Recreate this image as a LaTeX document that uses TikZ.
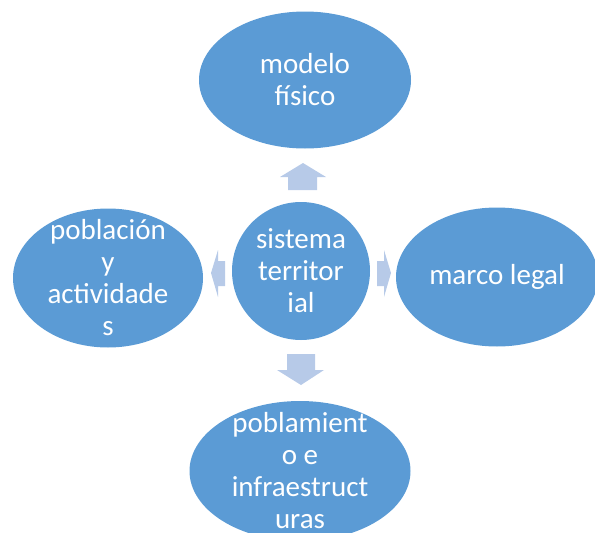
\documentclass[tikz,border=0pt]{standalone}
\usepackage{fontspec}
\setmainfont{Carlito}
\usetikzlibrary{shapes.geometric}
\definecolor{bubbleblue}{RGB}{91,155,213}
\definecolor{pale}{RGB}{183,202,232}

\begin{document}
\begin{tikzpicture}
            [x=1pt,y=-1pt,bubble/.style={ellipse,fill=bubbleblue,inner sep=0pt},
             every label/.style={text=white,align=center,inner sep=0pt,font=\fontsize{29}{32}\selectfont}]
            \useasboundingbox (0,0) rectangle (595,533);
            \clip (0,0) rectangle (595,533);
            \node[bubble,circle,minimum size=138pt,label=center:{sistema\\territor\\ial}] (sis) at (301,271) {};
            \node[bubble,minimum width=212pt,minimum height=137pt,label=center:{modelo\\físico}] (mod) at (305,80) {};
            \node[bubble,minimum width=190pt,minimum height=139pt,label=center:{población\\y\\actividade\\s}] (pob) at (108,278) {};
            \node[bubble,minimum width=202pt,minimum height=139pt,label=center:{marco legal}] (mar) at (497,277) {};
            \node[bubble,minimum width=221pt,minimum height=140pt,label=center:{poblamient\\o e\\infraestruct\\uras}] (inf) at (300,471) {};
            % block arrows
            \fill[pale] (288,190) -- (288,177) -- (280,177) -- (303,163) -- (326,177) -- (317,177) -- (317,190) -- cycle;
            \fill[pale] (287,354) -- (315,354) -- (315,370) -- (324,370) -- (301,385) -- (277,370) -- (287,370) -- cycle;
            \fill[pale] (225,261) -- (218,261) -- (218,250) -- (211,273) -- (218,297) -- (218,286) -- (225,286) -- cycle;
            \fill[pale] (377,261) -- (384,261) -- (384,250) -- (391,273) -- (384,297) -- (384,286) -- (377,286) -- cycle;
        \end{tikzpicture}
\end{document}
